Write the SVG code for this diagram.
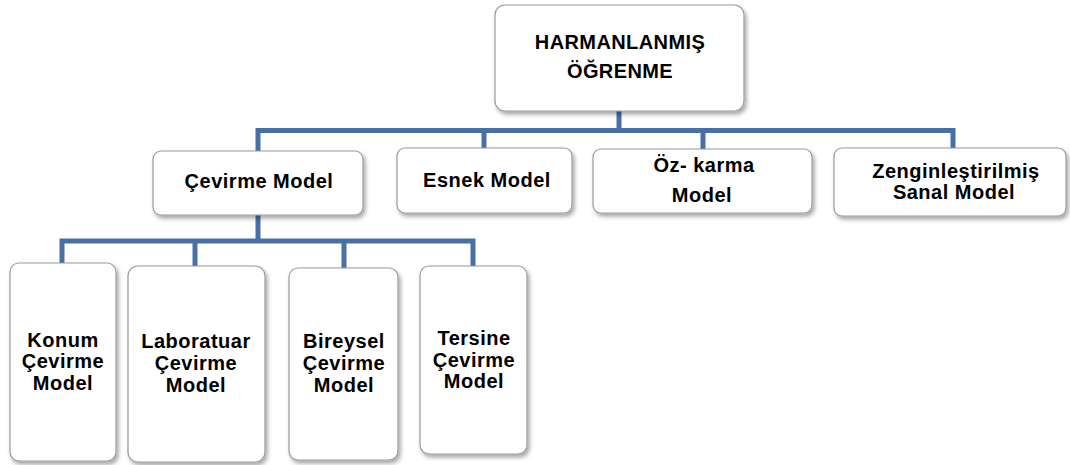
<svg xmlns="http://www.w3.org/2000/svg" width="1070" height="465" viewBox="0 0 1070 465">
  <defs>
    <filter id="sh" x="-10%" y="-10%" width="125%" height="125%">
      <feDropShadow dx="2" dy="3" stdDeviation="2" flood-color="#000" flood-opacity="0.35"/>
    </filter>
    <style>
      .box { fill: #ffffff; stroke: #9a9a9a; stroke-width: 1.2; filter: url(#sh); }
      .t { font-family: "Liberation Sans", Arial, sans-serif; font-weight: bold; font-size: 20px; letter-spacing: 0.5px; fill: #000; text-anchor: middle; }
      .tt { letter-spacing: 0.4px; }
      .c { fill: none; stroke: #4870A6; stroke-width: 5; stroke-linejoin: miter; }
    </style>
  </defs>
  <rect width="1070" height="465" fill="#ffffff"/>

  <g id="connectors">
    <path class="c" d="M619 110 V130.5"/>
    <path class="c" d="M258 151 V130.5 H953 V148"/>
    <path class="c" d="M484 130.5 V148"/>
    <path class="c" d="M703 130.5 V149"/>
    <path class="c" d="M258 215 V241"/>
    <path class="c" d="M62 263 V241 H473 V266"/>
    <path class="c" d="M195 241 V266"/>
    <path class="c" d="M344 241 V268"/>
  </g>

  <g id="node-harmanlanmis">
    <rect class="box" x="495" y="5" width="249" height="106" rx="10"/>
    <text class="t tt" x="620" y="49">HARMANLANMIŞ</text>
    <text class="t tt" x="620" y="78">ÖĞRENME</text>
  </g>

  <g id="node-cevirme">
    <rect class="box" x="153" y="151" width="210" height="64" rx="8"/>
    <text class="t" x="259" y="188">Çevirme Model</text>
  </g>
  <g id="node-esnek">
    <rect class="box" x="397" y="148" width="175" height="65" rx="8"/>
    <text class="t" x="487" y="187">Esnek Model</text>
  </g>
  <g id="node-ozkarma">
    <rect class="box" x="593" y="149" width="219" height="64" rx="8"/>
    <text class="t" x="704" y="172">Öz- karma</text>
    <text class="t" x="702" y="202">Model</text>
  </g>
  <g id="node-zengin">
    <rect class="box" x="834" y="148" width="232" height="68" rx="8"/>
    <text class="t" x="956" y="178">Zenginleştirilmiş</text>
    <text class="t" x="954" y="199">Sanal Model</text>
  </g>

  <g id="node-konum">
    <rect class="box" x="10" y="263" width="106" height="198" rx="9"/>
    <text class="t" x="63" y="347">Konum</text>
    <text class="t" x="63" y="368">Çevirme</text>
    <text class="t" x="63" y="390">Model</text>
  </g>
  <g id="node-laboratuar">
    <rect class="box" x="128" y="266" width="137" height="196" rx="10"/>
    <text class="t" x="196" y="348">Laboratuar</text>
    <text class="t" x="196" y="370">Çevirme</text>
    <text class="t" x="196" y="392">Model</text>
  </g>
  <g id="node-bireysel">
    <rect class="box" x="289" y="268" width="109" height="192" rx="9"/>
    <text class="t" x="344" y="348">Bireysel</text>
    <text class="t" x="344" y="370">Çevirme</text>
    <text class="t" x="344" y="392">Model</text>
  </g>
  <g id="node-tersine">
    <rect class="box" x="420" y="266" width="107" height="188" rx="9"/>
    <text class="t" x="474" y="345">Tersine</text>
    <text class="t" x="474" y="367">Çevirme</text>
    <text class="t" x="474" y="388">Model</text>
  </g>
</svg>
